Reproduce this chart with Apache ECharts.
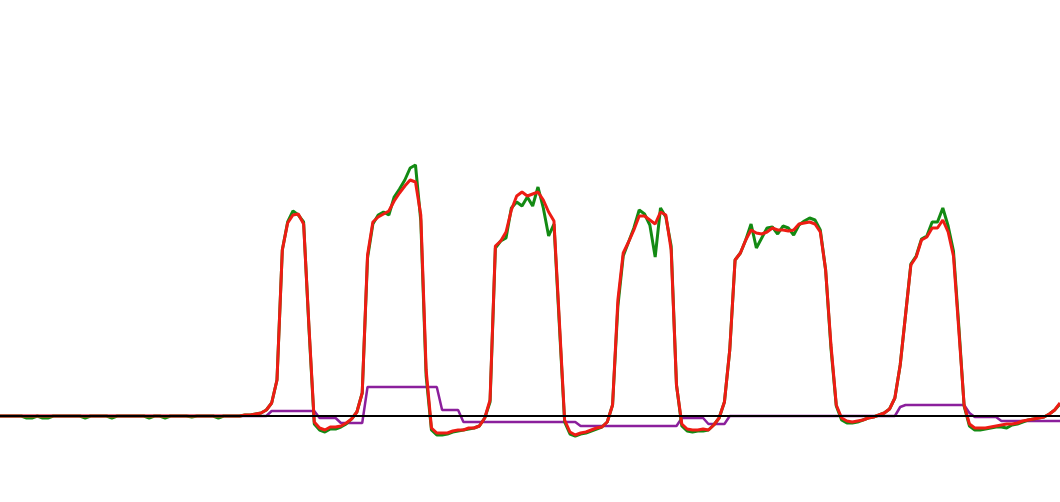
<!DOCTYPE html>
<html>
<head>
<meta charset="utf-8">
<script src="https://cdn.jsdelivr.net/npm/echarts@6/dist/echarts.min.js"></script>
<style>
html,body{margin:0;padding:0;background:#fff;}
#chart{width:1060px;height:502px;}
</style>
</head>
<body>
<div id="chart"></div>
<script>
// Values (arbitrary units, 0 = baseline)
const greenValues = [0,0,0,0,0,-2,-2,0,-2,-2,
0,0,0,0,0,0,-2,0,0,0,
0,-2,0,0,0,0,0,0,-2,0,
0,-2,0,0,0,0,-1,0,0,0,
0,-2,0,0,0,0,1,1,2,3,
6,13,36,166,194,205,201,194,88,-8,
-14,-16,-13,-13,-11,-8,-3,4,23,158,
192,201,204,201,219,227,236,248,251,195,
40,-14,-19,-19,-18,-16,-15,-14,-13,-12,
-10,-2,14,168,175,178,208,214,210,219,
210,229,208,180,192,92,-6,-18,-20,-18,
-17,-15,-13,-11,-6,11,110,160,174,188,
206,202,191,159,208,199,170,31,-10,-15,
-16,-15,-15,-14,-9,-2,14,66,156,163,
176,192,168,178,188,189,182,190,188,181,
191,195,198,196,186,146,68,10,-4,-7,
-7,-6,-4,-2,-1,1,3,7,18,51,
101,152,160,177,180,194,194,208,190,165,
90,10,-10,-14,-14,-13,-12,-11,-11,-12,
-9,-8,-6,-4,-3,-2,-1,2,6,12];

const redValues = [0,0,0,0,0,0,0,0,0,0,
0,0,0,0,0,0,0,0,0,0,
0,0,0,0,0,0,0,0,0,0,
0,0,0,0,0,0,0,0,0,0,
0,0,0,0,0,0,1,1,2,3,
6,13,36,166,193,201,202,192,90,-6,
-12,-14,-11,-11,-10,-7,-3,4,23,161,
194,199,202,205,215,223,230,236,234,201,
46,-12,-17,-17,-17,-15,-14,-14,-12,-12,
-10,-2,16,170,175,184,206,220,224,220,
222,224,216,204,195,96,-4,-16,-19,-17,
-16,-14,-12,-11,-6,11,116,163,174,186,
200,200,196,192,204,201,166,31,-8,-13,
-14,-14,-13,-14,-9,-2,14,66,156,163,
176,186,183,182,184,188,186,186,185,186,
192,193,194,192,184,146,71,11,-2,-5,
-6,-5,-4,-2,-1,1,3,7,18,51,
101,151,159,176,179,188,188,196,184,160,
86,11,-8,-12,-12,-12,-11,-10,-9,-8,
-8,-7,-5,-4,-3,-2,-1,2,6,13];

const purpleValues = [0,0,0,0,0,0,0,0,0,0,
0,0,0,0,0,0,0,0,0,0,
0,0,0,0,0,0,0,0,0,0,
0,0,0,0,0,0,0,0,0,0,
0,0,0,0,0,0,0,0,0,0,
0,5,5,5,5,5,5,5,5,5,
-2,-2,-2,-2,-7,-7,-7,-7,-7,29,
29,29,29,29,29,29,29,29,29,29,
29,29,29,6,6,6,6,-6,-6,-6,
-6,-6,-6,-6,-6,-6,-6,-6,-6,-6,
-6,-6,-6,-6,-6,-6,-6,-6,-6,-10,
-10,-10,-10,-10,-10,-10,-10,-10,-10,-10,
-10,-10,-10,-10,-10,-10,-10,-10,-2,-2,
-2,-2,-2,-8,-8,-8,-8,0,0,0,
0,0,0,0,0,0,0,0,0,0,
0,0,0,0,0,0,0,0,0,0,
0,0,0,0,0,0,0,0,0,9,
11,11,11,11,11,11,11,11,11,11,
11,11,3,-1,-1,-1,-1,-1,-5,-5,
-5,-5,-5,-5,-5,-5,-5,-5,-5,-5];

const baselineValue = 0;
const categories = redValues.map((_, i) => i);

const chart = echarts.init(document.getElementById('chart'), null, {renderer: 'canvas'});
chart.setOption({
  animation: false,
  backgroundColor: '#ffffff',
  grid: {left: 0, right: 0, top: 0, bottom: 0},
  xAxis: {type: 'category', data: categories, boundaryGap: false, show: false},
  yAxis: {type: 'value', min: -86, max: 416, show: false, splitLine: {show: false}},
  series: [
    {
      name: 'baseline', type: 'line', data: [], z: 1, silent: true,
      markLine: {
        silent: true, symbol: 'none', label: {show: false},
        lineStyle: {color: '#000000', width: 2, type: 'solid'},
        data: [{yAxis: baselineValue}]
      }
    },
    {name: 'purple', type: 'line', data: purpleValues, showSymbol: false, z: 2,
     lineStyle: {color: '#8b1f9c', width: 2.5}, itemStyle: {color: '#8b1f9c'}},
    {name: 'green', type: 'line', data: greenValues, showSymbol: false, z: 3,
     lineStyle: {color: '#138a13', width: 3}, itemStyle: {color: '#138a13'}},
    {name: 'red', type: 'line', data: redValues, showSymbol: false, z: 4,
     lineStyle: {color: '#ee1c14', width: 3}, itemStyle: {color: '#ee1c14'}}
  ]
});
</script>
</body>
</html>
